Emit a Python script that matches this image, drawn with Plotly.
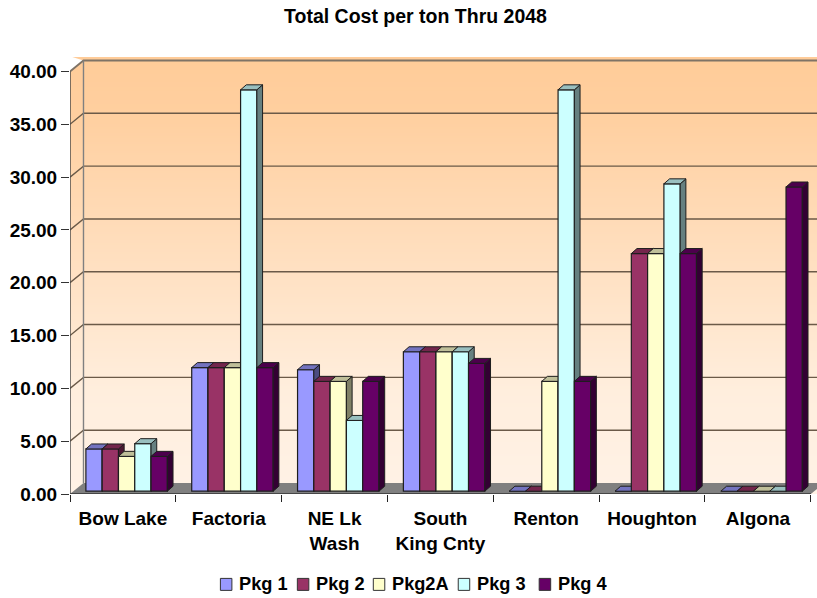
import plotly.graph_objects as go

# Chart data
categories = ["Bow Lake", "Factoria", "NE Lk<br>Wash", "South<br>King Cnty", "Renton", "Houghton", "Algona"]
pkg_1 = [4.0, 11.7, 11.5, 13.2, 0, 0, 0]
pkg_2 = [4.0, 11.7, 10.4, 13.2, 0, 22.5, 0]
pkg_2a = [3.3, 11.7, 10.4, 13.2, 10.4, 22.5, 0]
pkg_3 = [4.5, 38.0, 6.7, 13.2, 38.0, 29.1, 0]
pkg_4 = [3.3, 11.7, 10.4, 12.1, 10.4, 22.5, 28.8]
series_names = ["Pkg 1", "Pkg 2", "Pkg2A", "Pkg 3", "Pkg 4"]
series_values = [pkg_1, pkg_2, pkg_2a, pkg_3, pkg_4]
y_ticks = [0, 5, 10, 15, 20, 25, 30, 35, 40]

# Face colours of each series: front, side, top
front_colors = ["#9999FF", "#993366", "#FFFFCC", "#CCFFFF", "#660066"]
side_colors = ["#4C4C80", "#4C1933", "#808066", "#668080", "#330033"]
top_colors = ["#7373BF", "#73264C", "#BFBF99", "#99BFBF", "#4C004C"]

W, H = 817, 598
LEFT, BOTTOM, TOP = 69.5, 103.5, 57.0
PX_X = 105.9    # pixels per category
PX_Y = 10.575   # pixels per y unit
PLOT_W = W - LEFT
PLOT_H = H - BOTTOM - TOP
x_max = PLOT_W / PX_X
y_max = PLOT_H / PX_Y

# Oblique projection offsets, in axis units
wall_dx, wall_dy = 13.5 / PX_X, 11.0 / PX_Y
bar_dx, bar_dy = 5.7 / PX_X, 5.0 / PX_Y
lift = 2.8 / PX_Y
bar_w = 16.3 / PX_X
group_start = 15.9 / PX_X
EDGE = "#1E1E1E"

FONT = "Liberation Sans"
TEXT_SIZE = 19

fig = go.Figure()


def poly(xs, ys, fill, line=None, width=1.0, xa="x", ya="y"):
    fig.add_trace(go.Scatter(
        x=xs, y=ys, mode="lines", fill="toself", fillcolor=fill,
        line=dict(color=line or fill, width=width if line else 0),
        xaxis=xa, yaxis=ya, hoverinfo="skip", showlegend=False))


def stroke(xs, ys, color, width, xa="x", ya="y"):
    fig.add_trace(go.Scatter(
        x=xs, y=ys, mode="lines", line=dict(color=color, width=width),
        xaxis=xa, yaxis=ya, hoverinfo="skip", showlegend=False))


def paper_x(px):
    return (px - LEFT) / PLOT_W


def paper_y(px):
    return (H - BOTTOM - px) / PLOT_H


# Wall gradient, light at the floor and peach at the top
levels = [i * (40 + wall_dy) / 60 for i in range(61)]
fig.add_trace(go.Heatmap(
    x=[0, x_max + 0.1], y=levels, z=[[v, v] for v in levels],
    zmin=0, zmax=40 + wall_dy, showscale=False, hoverinfo="skip", zsmooth="best",
    colorscale=[[0, "#FFF2E6"], [0.24, "#FFEEDD"], [0.88, "#FFCF9F"], [1, "#FFCC99"]]))

# Corner above the side wall stays white
poly([0, wall_dx, 0, 0], [40, 40 + wall_dy, 40 + wall_dy + 0.4, 40], "#FFFFFF")

# Gridlines on the back wall and their runs along the side wall
gx, gy = [], []
for v in y_ticks[1:-1]:
    gx += [0, wall_dx, x_max + 0.1, None]
    gy += [v, v + wall_dy, v + wall_dy, None]
stroke(gx, gy, "#6B5A48", 1.4)

# Wall outline
stroke([0, wall_dx, x_max + 0.1], [40, 40 + wall_dy, 40 + wall_dy], "#7F7366", 1.8)
stroke([wall_dx, wall_dx], [wall_dy, 40 + wall_dy], "#808080", 1.4)

# Floor
poly([0, 7, 7 + wall_dx, wall_dx, 0], [0, 0, wall_dy, wall_dy, 0], "#808080")

# Front edges of the chart box
stroke([0, 7], [0, 0], "#333333", 1.4)
stroke([0, 0], [0, 40], "#444444", 1.4)

# Each series gets its own overlaid axes so it paints over the one before it
for s, (name, values) in enumerate(zip(series_names, series_values)):
    n = s + 2
    xa, ya = f"x{n}", f"y{n}"
    lefts = [c + group_start + s * bar_w for c in range(len(values))]

    fig.add_trace(go.Bar(
        x=[l + bar_w / 2 for l in lefts], y=values, base=lift, width=bar_w, name=name,
        marker=dict(color=front_colors[s], line=dict(color=EDGE, width=1.2)),
        xaxis=xa, yaxis=ya, showlegend=False))

    sx, sy, tx, ty = [], [], [], []
    for l, v in zip(lefts, values):
        r = l + bar_w
        t = v + lift
        sx += [r, r + bar_dx, r + bar_dx, r, r, None]
        sy += [lift, lift + bar_dy, t + bar_dy, t, lift, None]
        tx += [l, l + bar_dx, r + bar_dx, r, l, None]
        ty += [t, t + bar_dy, t + bar_dy, t, t, None]
    poly(sx, sy, side_colors[s], EDGE, 1.0, xa, ya)
    poly(tx, ty, top_colors[s], EDGE, 1.0, xa, ya)

layout = dict(
    width=W, height=H,
    margin=dict(l=LEFT, r=0, t=TOP, b=BOTTOM, pad=0),
    paper_bgcolor="#FFFFFF", plot_bgcolor="#FFFFFF",
    barmode="overlay", showlegend=False,
    font=dict(family=FONT, color="#000000"),
    title=dict(text="<b>Total Cost per ton Thru 2048</b>",
               x=415.5 / W, xanchor="center", y=1 - 16.0 / H, yanchor="middle",
               font=dict(family=FONT, size=19.5, color="#000000")),
    xaxis=dict(
        range=[0, x_max], showgrid=False, zeroline=False, showline=False,
        tickmode="array", tickvals=[c + 0.5 for c in range(7)], ticktext=categories,
        ticks="", ticklabelstandoff=11,
        tickfont=dict(family=FONT, size=TEXT_SIZE, weight="bold"),
        minor=dict(tickmode="array", tickvals=list(range(8)), ticks="outside",
                   ticklen=7, tickwidth=1, tickcolor="#222222", showgrid=False)),
    yaxis=dict(
        range=[0, y_max], showgrid=False, zeroline=False, showline=False,
        tickmode="array", tickvals=y_ticks, tickformat=".2f",
        ticks="outside", ticklen=8, tickwidth=1, tickcolor="#333333",
        tickfont=dict(family=FONT, size=TEXT_SIZE, weight="bold")),
)
for s in range(5):
    n = s + 2
    layout[f"xaxis{n}"] = dict(range=[0, x_max], overlaying="x", anchor=f"y{n}", visible=False)
    layout[f"yaxis{n}"] = dict(range=[0, y_max], overlaying="y", anchor=f"x{n}", visible=False)

# Legend row along the bottom of the figure
legend_left = [220, 297, 373, 458, 539]
shapes, annotations = [], []
for name, color, px in zip(series_names, front_colors, legend_left):
    shapes.append(dict(type="rect", xref="paper", yref="paper",
                       x0=paper_x(px), x1=paper_x(px + 11.5),
                       y0=paper_y(591), y1=paper_y(579),
                       fillcolor=color, line=dict(color="#333333", width=1)))
    annotations.append(dict(text=f"<b>{name}</b>", xref="paper", yref="paper", showarrow=False,
                            x=paper_x(px + 17), xanchor="left",
                            y=paper_y(585), yanchor="middle",
                            font=dict(family=FONT, size=18.2, color="#000000")))
layout["shapes"] = shapes
layout["annotations"] = annotations

fig.update_layout(**layout)
fig.write_html("out.html")
